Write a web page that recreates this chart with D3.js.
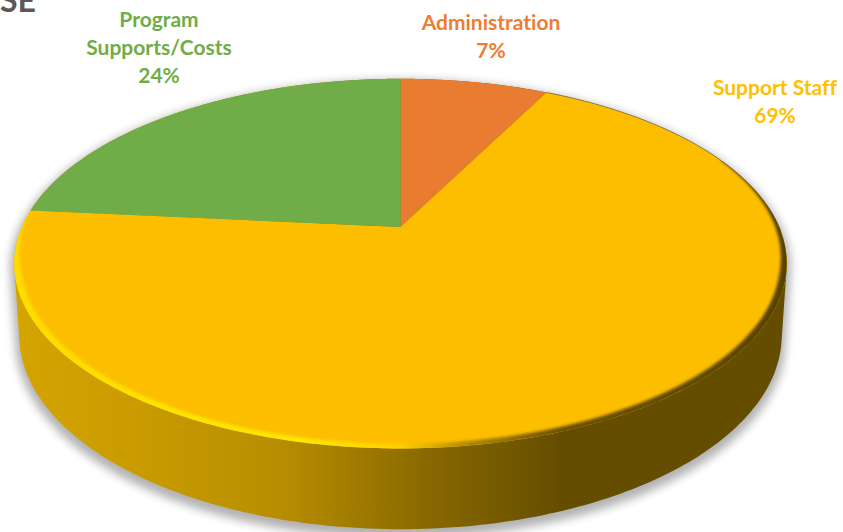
<!DOCTYPE html>
<html>
<head>
<meta charset="utf-8">
<script src="https://cdn.jsdelivr.net/npm/d3@7"></script>
<style>
  html, body { margin: 0; padding: 0; background: #fff; }
  svg { display: block; }
  text { font-family: Lato, "Open Sans", sans-serif; font-weight: 700; font-variant-ligatures: none; }
</style>
</head>
<body>
<svg id="chart" width="843" height="532"></svg>
<script>
const categories = ["Administration", "Support Staff", "Program Supports/Costs"];
const shares = [7.49, 69.01, 23.5];
const labelLines = [["Administration"], ["Support Staff"], ["Program", "Supports/Costs"]];

const sliceColors = ["#ea7c31", "#fdbe00", "#70ac47"];
const labelColors = ["#ed7d31", "#ffc000", "#70ad47"];
const labelAnchors = [[491, 30], [775, 95], [159, 27]];

const width = 843, height = 532;
const cx = 400.5, cy = 227;      // where the slices meet
const persp = 0.198, halfW = 378.6, halfH = 177.6;
const lineH = 28;

// tilted disc, the near edge is bigger than the far one
function topPoint(a, r = 1) {
  const u = Math.sin(a) * r, v = -Math.cos(a) * r;
  const d = 1 - persp * v;
  return [cx + halfW * u / d, cy + halfH * v / d];
}
// same rim, but at the bottom of the disc
function lowPoint(a) {
  const p = topPoint(a);
  return [cx + (p[0] - cx) * 0.987, 335 + (p[1] - 263.5) * 1.05];
}

const svg = d3.select("#chart");
const defs = svg.append("defs");
const line = d3.line();
const color = d3.scaleOrdinal(categories, sliceColors);
const textColor = d3.scaleOrdinal(categories, labelColors);
const pct = d3.format(".0%");

const blur = (id, dev) => defs.append("filter")
  .attr("id", id)
  .attr("x", "-10%").attr("y", "-10%").attr("width", "120%").attr("height", "120%")
  .append("feGaussianBlur").attr("stdDeviation", dev);
blur("shadowBlur", 5);
blur("edgeBlur", 1.8);

const gradient = (id, stops) => defs.append("linearGradient")
  .attr("id", id)
  .attr("gradientUnits", "userSpaceOnUse")
  .attr("x1", 15).attr("x2", 785).attr("y1", 0).attr("y2", 0)
  .selectAll("stop").data(stops).join("stop")
  .attr("offset", d => (d[0] - 15) / 770)
  .attr("stop-color", d => d[1]);

gradient("sideFill", [[15, "#d4a400"], [140, "#c99b00"], [280, "#b88e00"], [420, "#8b6b00"], [560, "#654d00"], [785, "#654d00"]]);
gradient("rimFill", [[15, "#ffdc00"], [300, "#ffe800"], [400, "#ffd000"], [470, "#b08600"], [560, "#6b5100"], [785, "#574200"]]);

const full = d3.range(0, 360, 1).map(d => d * Math.PI / 180);
const topRim = full.map(a => topPoint(a));
const lowRim = full.map(a => lowPoint(a));
const body = d3.polygonHull(topRim.concat(lowRim));

defs.append("clipPath").attr("id", "topClip")
  .append("path").attr("d", line(topRim) + "Z");

// soft shadow under the disc
svg.append("path")
  .attr("d", line(body) + "Z")
  .attr("transform", "translate(0,5)")
  .attr("fill", "#000")
  .attr("stroke", "#000")
  .attr("stroke-width", 8)
  .attr("opacity", 0.3)
  .attr("filter", "url(#shadowBlur)");

// side wall
svg.append("path")
  .attr("d", line(body) + "Z")
  .attr("fill", "url(#sideFill)");

// top face, one path per slice
const pie = d3.pie().sort(null).value(d => d);
const slices = pie(shares);

svg.append("g").selectAll("path")
  .data(slices)
  .join("path")
  .attr("d", d => {
    const steps = d3.range(d.startAngle, d.endAngle, 0.01).concat(d.endAngle);
    return line([[cx, cy]].concat(steps.map(a => topPoint(a)))) + "Z";
  })
  .attr("fill", (d, i) => color(categories[i]));

// thin grey line on the far right edge
const farAngles = d3.range(slices[1].startAngle, 1.6, 0.01);
svg.append("path")
  .attr("d", line(farAngles.map(a => topPoint(a))))
  .attr("fill", "none")
  .attr("stroke", "#6e6650")
  .attr("stroke-opacity", 0.7)
  .attr("stroke-width", 1);

// bevel along the near edge of the yellow slice, thin at both ends
const bandStart = 1.15, bandEnd = slices[1].endAngle;
const bandAngles = d3.range(bandStart, bandEnd, 0.01);
const bandWidth = a => 0.017 * Math.min(1, (a - bandStart) / 0.7, (bandEnd - a) / 0.35);
const band = bandAngles.map(a => topPoint(a, 1.01))
  .concat(bandAngles.slice().reverse().map(a => topPoint(a, 1 - bandWidth(a))));
svg.append("g").attr("clip-path", "url(#topClip)")
  .append("path")
  .attr("d", line(band) + "Z")
  .attr("fill", "url(#rimFill)")
  .attr("filter", "url(#edgeBlur)");

// labels
const labels = svg.append("g").selectAll("text")
  .data(categories)
  .join("text")
  .attr("text-anchor", "middle")
  .attr("font-size", 21)
  .attr("fill", d => textColor(d))
  .attr("transform", (d, i) => `translate(${labelAnchors[i][0]},${labelAnchors[i][1]})`);

labels.each(function (d, i) {
  const lines = labelLines[i].concat(pct(shares[i] / 100));
  d3.select(this).selectAll("tspan")
    .data(lines)
    .join("tspan")
    .attr("x", 0)
    .attr("y", (t, j) => j * lineH)
    .text(t => t);
});

// end of the slide title, cut off by the crop
svg.append("text")
  .attr("x", 0).attr("y", 12)
  .attr("font-size", 32)
  .attr("fill", "#595959")
  .text("SE");
</script>
</body>
</html>
